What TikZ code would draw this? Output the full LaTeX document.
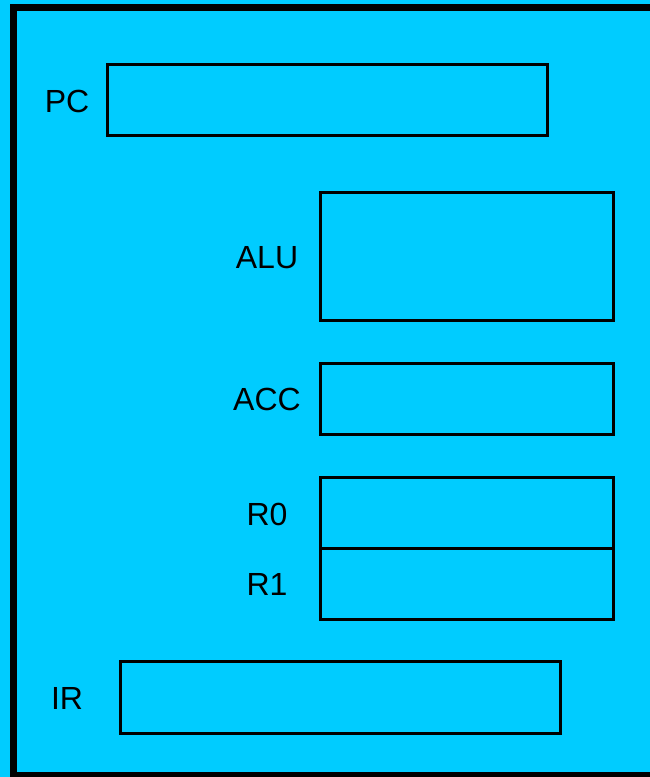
\documentclass[tikz,border=0pt]{standalone}
\usepackage{fontspec}
\setmainfont{Liberation Sans}
\definecolor{cpubg}{RGB}{0,204,255}

\begin{document}
\begin{tikzpicture}[x=1pt,y=-1pt]
  \tikzstyle{reg}=[draw,line width=3pt,fill=cpubg,inner sep=0pt]
  \tikzstyle{lbl}=[inner sep=0pt,font=\fontsize{32}{38}\selectfont]
  \fill[cpubg] (0,0) rectangle (650,777);
  \clip (0,0) rectangle (650,777);
  \draw[line width=7pt] (13.5,7.5) rectangle (680,775.5);

  \node[reg,minimum width=440,minimum height=71] (pc) at (327,99.5) {};
  \node[reg,minimum width=293,minimum height=128] (alu) at (466.5,256) {};
  \node[reg,minimum width=293,minimum height=71] (acc) at (466.5,398.5) {};
  \node[reg,minimum width=293,minimum height=71] (r0) at (466.5,512.5) {};
  \node[reg,minimum width=293,minimum height=71] (r1) at (466.5,583.5) {};
  \node[reg,minimum width=440,minimum height=72] (ir) at (340,697) {};

  \node[lbl] (pclbl) at (67,101) {PC};
  \node[lbl] (alulbl) at (267,258) {ALU};
  \node[lbl] (acclbl) at (267,399) {ACC};
  \node[lbl] (r0lbl) at (267,514) {R0};
  \node[lbl] (r1lbl) at (267,584) {R1};
  \node[lbl] (irlbl) at (67,698) {IR};
\end{tikzpicture}
\end{document}
